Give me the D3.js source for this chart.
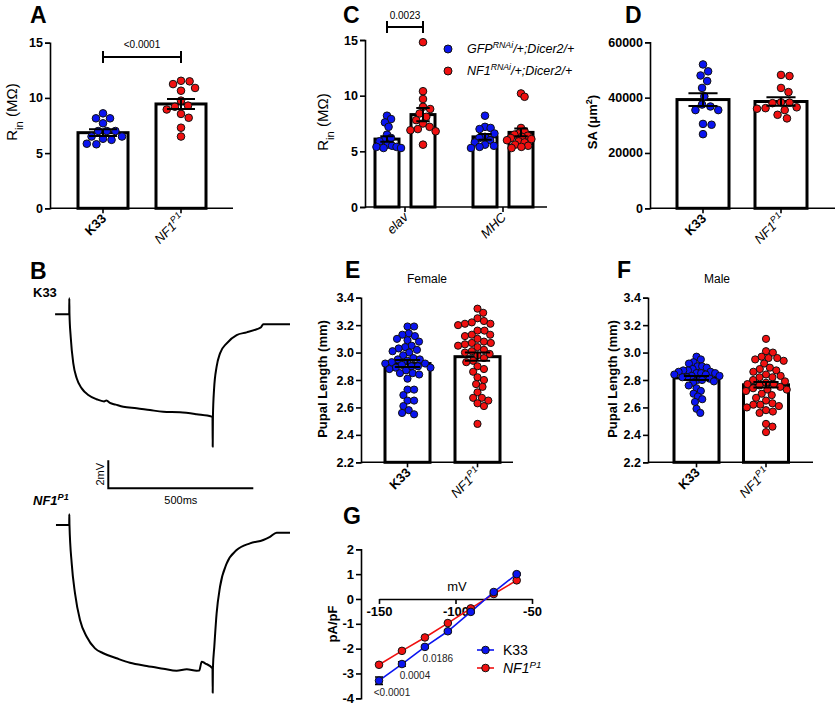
<!DOCTYPE html>
<html>
<head>
<meta charset="utf-8">
<script src="https://cdn.jsdelivr.net/npm/d3@7"></script>
<style>
  body { margin: 0; background: #fff; }
  svg { font-family: "Liberation Sans", Arial, sans-serif; }
</style>
</head>
<body>
<svg width="837" height="706"></svg>
<script>
  // ---- data ----
  // A: input resistance (MOhm)
  const aMeans = [6.85, 9.45];
  const aSem = [0.3, 0.45];
  const aK33 = [8.6, 8.15, 8.15, 7.7, 7.0, 7.0, 7.0, 6.5, 6.5, 6.3, 6.2, 5.85, 5.8];
  const aNF1 = [11.55, 11.5, 11.25, 10.9, 10.65, 9.75, 9.3, 9.2, 8.95, 8.55, 8.2, 7.3, 6.5];

  // C: input resistance, RNAi (elav, MHC)
  const cGroups = ['elav', 'MHC'];
  const cMeansGFP = [6.1, 6.3];
  const cMeansNF1 = [8.3, 6.7];
  const cSemGFP = [0.25, 0.25];
  const cSemNF1 = [0.6, 0.35];
  const cElavGFP = [8.2, 7.9, 7.6, 7.2, 6.5, 6.2, 6.0, 5.9, 5.6, 5.5, 5.4, 5.3, 5.3, 5.4];
  const cElavNF1 = [14.8, 10.4, 9.7, 9.0, 8.8, 8.4, 8.1, 7.8, 7.5, 7.2, 7.0, 6.9, 6.8, 5.6];
  const cMhcGFP = [8.2, 7.2, 7.1, 7.0, 6.6, 6.3, 6.2, 6.0, 5.8, 5.6, 5.5, 5.4, 5.3];
  const cMhcNF1 = [10.2, 9.9, 7.1, 6.8, 6.6, 6.5, 6.4, 6.3, 6.2, 6.1, 6.0, 5.9, 5.8, 5.6, 5.5, 5.4, 5.3];

  // D: surface area (um^2)
  const dMeans = [39300, 38600];
  const dSem = [2300, 1500];
  const dK33 = [52000, 49500, 48000, 46000, 43500, 40500, 37500, 36800, 35500, 35500, 30500, 30200, 26800];
  const dNF1 = [48200, 47800, 43500, 42000, 38300, 38200, 38000, 36500, 36200, 36000, 35500, 33800, 32500];

  // E: female pupal length (mm)
  const eMeans = [2.92, 2.97];
  const eSem = [0.025, 0.03];
  const eK33 = [3.19, 3.19, 3.14, 3.13, 3.12, 3.10, 3.09, 3.08, 3.05, 3.04, 3.03, 3.02, 3.01, 3.00,
    2.98, 2.96, 2.95, 2.95, 2.94, 2.93, 2.92, 2.92, 2.91, 2.90, 2.90, 2.89, 2.89, 2.88, 2.87,
    2.85, 2.85, 2.84, 2.81, 2.73, 2.73, 2.69, 2.65, 2.65, 2.61, 2.58, 2.56, 2.55];
  const eNF1 = [3.32, 3.29, 3.25, 3.23, 3.22, 3.21, 3.21, 3.20, 3.16, 3.16, 3.13, 3.13, 3.12, 3.10,
    3.08, 3.07, 3.07, 3.06, 3.05, 3.04, 3.02, 3.01, 3.00, 2.99, 2.98, 2.96, 2.94, 2.93, 2.90,
    2.88, 2.86, 2.82, 2.80, 2.77, 2.75, 2.71, 2.67, 2.67, 2.65, 2.63, 2.61, 2.48];

  // F: male pupal length (mm)
  const fMeans = [2.815, 2.765];
  const fSem = [0.015, 0.02];
  const fK33 = [2.97, 2.95, 2.93, 2.92, 2.90, 2.90, 2.89, 2.88, 2.87, 2.87, 2.86, 2.86, 2.85, 2.85,
    2.85, 2.84, 2.84, 2.83, 2.83, 2.82, 2.82, 2.81, 2.80, 2.80, 2.79, 2.78, 2.76, 2.74, 2.72,
    2.70, 2.68, 2.66, 2.64, 2.59, 2.56];
  const fNF1 = [3.10, 3.01, 3.00, 2.97, 2.96, 2.96, 2.95, 2.94, 2.92, 2.89, 2.88, 2.87, 2.86, 2.84,
    2.83, 2.82, 2.82, 2.80, 2.79, 2.78, 2.77, 2.77, 2.76, 2.75, 2.74, 2.73, 2.73, 2.72, 2.70,
    2.69, 2.67, 2.65, 2.63, 2.62, 2.62, 2.61, 2.60, 2.58, 2.57, 2.56, 2.48, 2.46, 2.42];

  // G: I-V relation (pA/pF vs mV)
  const gVolt = [-150, -135, -120, -105, -90, -75, -60];
  const gK33 = [-3.29, -2.62, -1.93, -1.30, -0.52, 0.28, 1.00];
  const gNF1 = [-2.65, -2.09, -1.55, -0.97, -0.38, 0.20, 0.75];
  const gK33Sem = [0.15, 0.09, 0.05, 0.05, 0.04, 0.04, 0.04];
  const gPvals = ['<0.0001', '0.0004', '0.0186'];

  // B: example voltage traces [ms, mV]
  const traceK33 = [[-49, 0], [-0.3, 0], [0, 1.14], [0.6, 0], [4.8, -1.6], [13.8, -3.5], [25.5, -4.57],
    [42.8, -5.29], [65.5, -5.76], [94.5, -6.07], [120, -6.22], [128, -6.15], [140, -6.33],
    [160, -6.45], [186, -6.6], [232, -6.71], [278, -6.84], [324, -6.96], [381.7, -7.0], [439, -7.14],
    [491, -7.31], [493.8, -7.35], [494.5, -9.46], [495.3, -7.3], [499, -5.41], [508, -3.74],
    [519.7, -2.79], [542.8, -2.07], [577, -1.48], [611.7, -1.29], [646, -1.07], [660, -0.95],
    [669, -0.71], [761, -0.71]];
  const traceNF1 = [[-46, 0], [-0.3, 0], [0, 0.76], [0.6, 0], [8.3, -2.74], [19.7, -4.88], [36.9, -6.79],
    [60, -7.98], [88.6, -8.81], [117, -9.16], [163, -9.52], [209, -9.84], [267, -10.07],
    [324, -10.26], [370, -10.41], [405, -10.31], [439, -10.41], [448, -10.4], [456.6, -9.76],
    [468, -9.88], [493.8, -10.24], [494.5, -11.98], [495.3, -10.2], [500, -8.69], [508, -6.31],
    [519.7, -4.41], [542.8, -2.74], [577, -1.79], [623, -1.31], [669, -1.07], [692, -0.84],
    [715, -0.55], [761, -0.55]];

  const BLUE = '#0a14f0';
  const RED = '#f01010';

  const svg = d3.select('svg');

  // simple deterministic beeswarm in pixel space, squeezed to maxHalf
  const swarm = (vals, yScale, cx, d, maxHalf) => {
    const placed = [];
    vals.map(v => ({ v, y: yScale(v) }))
      .sort((a, b) => a.y - b.y)
      .forEach(p => {
        const cands = [0];
        placed.forEach(q => {
          const dy = Math.abs(q.y - p.y);
          if (dy < d) {
            const dx = Math.sqrt(d * d - dy * dy);
            cands.push(q.dx + dx + 0.01, q.dx - dx - 0.01);
          }
        });
        cands.sort((a, b) => Math.abs(a) - Math.abs(b));
        for (const c of cands) {
          const ok = placed.every(q => {
            const dy = q.y - p.y, dx = q.dx - c;
            return dx * dx + dy * dy >= d * d - 0.1;
          });
          if (ok) { p.dx = c; break; }
        }
        placed.push(p);
      });
    const widest = d3.max(placed, p => Math.abs(p.dx)) || 1;
    const k = Math.min(1, maxHalf / widest);
    return placed.map(p => ({ x: cx + p.dx * k, y: p.y }));
  };

  const panelLetter = (txt, x, y) => {
    svg.append('text').attr('x', x).attr('y', y)
      .attr('font-size', 23).attr('font-weight', 'bold').text(txt);
  };

  // text from parts = [[text, style]]; style flags: i italic, sup, sub, b bold, n normal
  const richText = (sel, parts) => {
    parts.forEach(([t, s]) => {
      const ts = sel.append('tspan').text(t);
      if (s.includes('i')) ts.attr('font-style', 'italic');
      if (s.includes('sup')) ts.attr('baseline-shift', 'super').attr('font-size', '70%');
      if (s.includes('sub')) ts.attr('baseline-shift', 'sub').attr('font-size', '75%');
      if (s.includes('b')) ts.attr('font-weight', 'bold');
      if (s.includes('n')) ts.attr('font-weight', 'normal');
    });
    return sel;
  };

  const yLabel = (parts, x, y, size = 13) => {
    const t = svg.append('text')
      .attr('transform', `translate(${x},${y}) rotate(-90)`)
      .attr('text-anchor', 'middle').attr('font-size', size).attr('font-weight', 'bold');
    richText(t, parts);
  };

  const k33Label = [['K33', 'b']];
  const nf1Label = [['NF1', 'in'], ['P1', 'insup']];

  // generic bar + scatter panel
  const barPanel = cfg => {
    const y = d3.scaleLinear().domain(cfg.domain).range([cfg.bottom, cfg.top]);
    const g = svg.append('g');

    cfg.bars.forEach(b => {
      g.append('rect')
        .attr('x', b.cx - cfg.barW / 2).attr('y', y(b.mean))
        .attr('width', cfg.barW).attr('height', y(cfg.domain[0]) - y(b.mean))
        .attr('fill', '#fff').attr('stroke', '#000').attr('stroke-width', 3);
    });

    cfg.bars.forEach(b => {
      g.selectAll(null).data(swarm(b.pts, y, b.cx, cfg.sep, cfg.maxHalf))
        .enter().append('circle')
        .attr('cx', d => d.x).attr('cy', d => d.y).attr('r', cfg.dot)
        .attr('fill', b.color).attr('stroke', '#111').attr('stroke-width', 1);
    });

    cfg.bars.forEach(b => {
      const hw = cfg.barW * 0.28;
      g.append('path')
        .attr('d', `M${b.cx},${y(b.mean - b.sem)}V${y(b.mean + b.sem)}` +
          `M${b.cx - hw},${y(b.mean + b.sem)}H${b.cx + hw}` +
          `M${b.cx - hw},${y(b.mean - b.sem)}H${b.cx + hw}`)
        .attr('stroke', '#000').attr('stroke-width', 2).attr('fill', 'none');
    });

    // y axis
    const ya = g.append('g').attr('transform', `translate(${cfg.axisX},0)`)
      .call(d3.axisLeft(y).tickValues(cfg.ticks).tickFormat(cfg.fmt).tickSize(5).tickPadding(2));
    ya.selectAll('text').attr('font-size', 12.5).attr('font-weight', 'bold')
      .attr('font-family', '"Liberation Sans", Arial, sans-serif').attr('fill', '#000');
    ya.selectAll('line, path').attr('stroke', '#000').attr('stroke-width', 1.6);

    // x axis
    const bx = y(cfg.domain[0]);
    g.append('path').attr('d', `M${cfg.axisX},${bx}H${cfg.axisEnd}`)
      .attr('stroke', '#000').attr('stroke-width', 1.6);
    cfg.xTicks.forEach(t => {
      g.append('path').attr('d', `M${t.cx},${bx}v5`).attr('stroke', '#000').attr('stroke-width', 1.6);
      const tx = g.append('text')
        .attr('transform', `translate(${t.cx + 4},${bx + 11}) rotate(-45)`)
        .attr('text-anchor', 'end').attr('font-size', 13);
      richText(tx, t.label);
    });
    return y;
  };

  // ---- Panel A ----
  panelLetter('A', 30, 23);
  const yA = barPanel({
    domain: [0, 15], bottom: 208.3, top: 42.7, axisX: 50, axisEnd: 233, barW: 50, dot: 3.8,
    sep: 8.6, maxHalf: 23, ticks: [0, 5, 10, 15], fmt: d3.format('d'),
    bars: [
      { cx: 103, mean: aMeans[0], sem: aSem[0], pts: aK33, color: BLUE },
      { cx: 181, mean: aMeans[1], sem: aSem[1], pts: aNF1, color: RED }
    ],
    xTicks: [{ cx: 103, label: k33Label }, { cx: 181, label: nf1Label }]
  });
  yLabel([['R', 'n'], ['in', 'nsub'], [' (MΩ)', 'n']], 17, 112, 15);
  svg.append('path').attr('d', `M103,${yA(13.7)}H181M103,${yA(13.7) - 6}v12M181,${yA(13.7) - 6}v12`)
    .attr('stroke', '#000').attr('stroke-width', 2);
  svg.append('text').attr('x', 142).attr('y', 48).attr('text-anchor', 'middle')
    .attr('font-size', 10).text('<0.0001');

  // ---- Panel C ----
  panelLetter('C', 343, 23);
  const cCenters = [405, 503];
  barPanel({
    domain: [0, 15], bottom: 207, top: 40, axisX: 365, axisEnd: 547, barW: 24, dot: 3.8,
    sep: 7.5, maxHalf: 14, ticks: [0, 5, 10, 15], fmt: d3.format('d'),
    bars: [
      { cx: cCenters[0] - 18, mean: cMeansGFP[0], sem: cSemGFP[0], pts: cElavGFP, color: BLUE },
      { cx: cCenters[0] + 18, mean: cMeansNF1[0], sem: cSemNF1[0], pts: cElavNF1, color: RED },
      { cx: cCenters[1] - 18, mean: cMeansGFP[1], sem: cSemGFP[1], pts: cMhcGFP, color: BLUE },
      { cx: cCenters[1] + 18, mean: cMeansNF1[1], sem: cSemNF1[1], pts: cMhcNF1, color: RED }
    ],
    xTicks: cGroups.map((gname, i) => ({ cx: cCenters[i], label: [[gname, 'in']] }))
  });
  yLabel([['R', 'n'], ['in', 'nsub'], [' (MΩ)', 'n']], 328, 122, 15);
  svg.append('path').attr('d', `M387,27H423M387,21v12M423,21v12`)
    .attr('stroke', '#000').attr('stroke-width', 2);
  svg.append('text').attr('x', 405).attr('y', 19).attr('text-anchor', 'middle')
    .attr('font-size', 10).text('0.0023');
  // legend
  [[BLUE, 'GFP', 49], [RED, 'NF1', 71]].forEach(([c, name, ly]) => {
    svg.append('circle').attr('cx', 448).attr('cy', ly).attr('r', 4)
      .attr('fill', c).attr('stroke', '#111').attr('stroke-width', 1);
    const t = svg.append('text').attr('x', 467).attr('y', ly + 4).attr('font-size', 12.5)
      .attr('font-style', 'italic');
    richText(t, [[name, 'i'], ['RNAi', 'isup'], ['/+;Dicer2/+', 'i']]);
  });

  // ---- Panel D ----
  panelLetter('D', 625, 23);
  barPanel({
    domain: [0, 60000], bottom: 208.3, top: 42.3, axisX: 650, axisEnd: 835, barW: 52, dot: 3.8,
    sep: 8.6, maxHalf: 24, ticks: [0, 20000, 40000, 60000], fmt: d3.format('d'),
    bars: [
      { cx: 703, mean: dMeans[0], sem: dSem[0], pts: dK33, color: BLUE },
      { cx: 781, mean: dMeans[1], sem: dSem[1], pts: dNF1, color: RED }
    ],
    xTicks: [{ cx: 703, label: k33Label }, { cx: 781, label: nf1Label }]
  });
  yLabel([['SA (μm', 'b'], ['2', 'bsup'], [')', 'b']], 597, 122);

  // ---- Panel E ----
  panelLetter('E', 345, 278);
  barPanel({
    domain: [2.2, 3.4], bottom: 462.3, top: 297.7, axisX: 361, axisEnd: 513, barW: 45, dot: 3.6,
    sep: 7, maxHalf: 23, ticks: d3.range(2.2, 3.41, 0.2), fmt: d3.format('.1f'),
    bars: [
      { cx: 407.5, mean: eMeans[0], sem: eSem[0], pts: eK33, color: BLUE },
      { cx: 477.5, mean: eMeans[1], sem: eSem[1], pts: eNF1, color: RED }
    ],
    xTicks: [{ cx: 407.5, label: k33Label }, { cx: 477.5, label: nf1Label }]
  });
  yLabel([['Pupal Length (mm)', 'b']], 327, 379);
  svg.append('text').attr('x', 427).attr('y', 283).attr('text-anchor', 'middle')
    .attr('font-size', 12).text('Female');

  // ---- Panel F ----
  panelLetter('F', 617, 278);
  barPanel({
    domain: [2.2, 3.4], bottom: 462.3, top: 297.7, axisX: 648, axisEnd: 813, barW: 45, dot: 3.6,
    sep: 7, maxHalf: 23, ticks: d3.range(2.2, 3.41, 0.2), fmt: d3.format('.1f'),
    bars: [
      { cx: 696.5, mean: fMeans[0], sem: fSem[0], pts: fK33, color: BLUE },
      { cx: 766, mean: fMeans[1], sem: fSem[1], pts: fNF1, color: RED }
    ],
    xTicks: [{ cx: 696.5, label: k33Label }, { cx: 766, label: nf1Label }]
  });
  yLabel([['Pupal Length (mm)', 'b']], 617, 379);
  svg.append('text').attr('x', 717).attr('y', 283).attr('text-anchor', 'middle')
    .attr('font-size', 12).text('Male');

  // ---- Panel B: traces ----
  panelLetter('B', 30, 279);
  const xB = d3.scaleLinear().domain([0, 500]).range([69.3, 214.3]);
  const yBtop = d3.scaleLinear().domain([0, -2]).range([314.3, 342.3]);
  const yBbot = d3.scaleLinear().domain([0, -2]).range([525, 553]);
  const traceLine = yS => d3.line().curve(d3.curveMonotoneX).x(d => xB(d[0])).y(d => yS(d[1]));
  svg.append('path').datum(traceK33).attr('d', traceLine(yBtop))
    .attr('fill', 'none').attr('stroke', '#000').attr('stroke-width', 2).attr('stroke-linejoin', 'round');
  svg.append('path').datum(traceNF1).attr('d', traceLine(yBbot))
    .attr('fill', 'none').attr('stroke', '#000').attr('stroke-width', 2).attr('stroke-linejoin', 'round');
  svg.append('text').attr('x', 33).attr('y', 297).attr('font-size', 13).attr('font-weight', 'bold').text('K33');
  richText(svg.append('text').attr('x', 33).attr('y', 505).attr('font-size', 13)
    .attr('font-weight', 'bold').attr('font-style', 'italic'), [['NF1', 'i'], ['P1', 'isup']]);
  // scale bar: 2 mV, 500 ms
  const sbX = 108.3, sbY = 488.3;
  const sbW = xB(500) - xB(0), sbH = yBtop(-2) - yBtop(0);
  svg.append('path').attr('d', `M${sbX},${sbY - sbH}V${sbY}H${sbX + sbW}`)
    .attr('fill', 'none').attr('stroke', '#000').attr('stroke-width', 2);
  svg.append('text').attr('transform', `translate(${sbX - 4},${sbY - sbH / 2}) rotate(-90)`)
    .attr('text-anchor', 'middle').attr('font-size', 11).text('2mV');
  svg.append('text').attr('x', sbX + sbW / 2).attr('y', sbY + 16)
    .attr('text-anchor', 'middle').attr('font-size', 11).text('500ms');

  // ---- Panel G: I-V ----
  panelLetter('G', 343, 524);
  const xG = d3.scaleLinear().domain([-150, -50]).range([379, 532]);
  const yG = d3.scaleLinear().domain([-4, 2]).range([698.3, 549.3]);
  const gy = svg.append('g').attr('transform', 'translate(361,0)')
    .call(d3.axisLeft(yG).ticks(6).tickSize(5).tickPadding(2));
  const gx = svg.append('g').attr('transform', `translate(0,${yG(0)})`)
    .call(d3.axisBottom(xG).tickValues([-150, -100, -50]).tickSize(5).tickPadding(3).tickSizeOuter(0));
  [gy, gx].forEach(a => {
    a.selectAll('text').attr('font-size', 13).attr('font-weight', 'bold')
      .attr('font-family', '"Liberation Sans", Arial, sans-serif').attr('fill', '#000');
    a.selectAll('line, path').attr('stroke', '#000').attr('stroke-width', 1.6);
  });
  gx.selectAll('text').text(d => '-' + Math.abs(d));
  gy.selectAll('text').text(d => d < 0 ? '-' + Math.abs(d) : d);
  svg.append('text').attr('x', 457).attr('y', 591).attr('text-anchor', 'middle')
    .attr('font-size', 13).text('mV');
  yLabel([['pA/pF', 'b']], 337, 624);

  const lineG = d3.line().x(d => xG(d[0])).y(d => yG(d[1]));
  const nfPts = gVolt.map((v, i) => [v, gNF1[i]]);
  const kPts = gVolt.map((v, i) => [v, gK33[i]]);
  svg.append('path').datum(nfPts).attr('d', lineG).attr('fill', 'none')
    .attr('stroke', RED).attr('stroke-width', 1.6);
  svg.append('path').datum(kPts).attr('d', lineG).attr('fill', 'none')
    .attr('stroke', BLUE).attr('stroke-width', 1.6);
  // K33 error bars
  svg.selectAll(null).data(kPts).enter().append('path')
    .attr('d', (d, i) => {
      const x = xG(d[0]), y1 = yG(d[1] - gK33Sem[i]), y2 = yG(d[1] + gK33Sem[i]);
      return `M${x},${y1}V${y2}M${x - 4},${y1}h8M${x - 4},${y2}h8`;
    })
    .attr('stroke', '#000').attr('stroke-width', 1.6);
  svg.selectAll(null).data(nfPts).enter().append('circle')
    .attr('cx', d => xG(d[0])).attr('cy', d => yG(d[1])).attr('r', 3.8)
    .attr('fill', RED).attr('stroke', '#111').attr('stroke-width', 1);
  svg.selectAll(null).data(kPts).enter().append('circle')
    .attr('cx', d => xG(d[0])).attr('cy', d => yG(d[1])).attr('r', 3.8)
    .attr('fill', BLUE).attr('stroke', '#111').attr('stroke-width', 1);
  // p-values beside the first K33 points
  gPvals.forEach((p, i) => {
    svg.append('text').attr('x', xG(gVolt[i]) + 13).attr('y', yG(gK33[i]) + 15)
      .attr('text-anchor', 'middle').attr('font-size', 10).attr('fill', '#222').text(p);
  });
  // legend
  [[BLUE, [['K33', '']], 650], [RED, [['NF1', 'i'], ['P1', 'isup']], 668]].forEach(([c, lab, ly]) => {
    svg.append('path').attr('d', `M477,${ly}H494`).attr('stroke', c).attr('stroke-width', 1.6);
    svg.append('circle').attr('cx', 485.5).attr('cy', ly).attr('r', 3.8)
      .attr('fill', c).attr('stroke', '#111').attr('stroke-width', 1);
    richText(svg.append('text').attr('x', 503).attr('y', ly + 5).attr('font-size', 14), lab);
  });
</script>
</body>
</html>
